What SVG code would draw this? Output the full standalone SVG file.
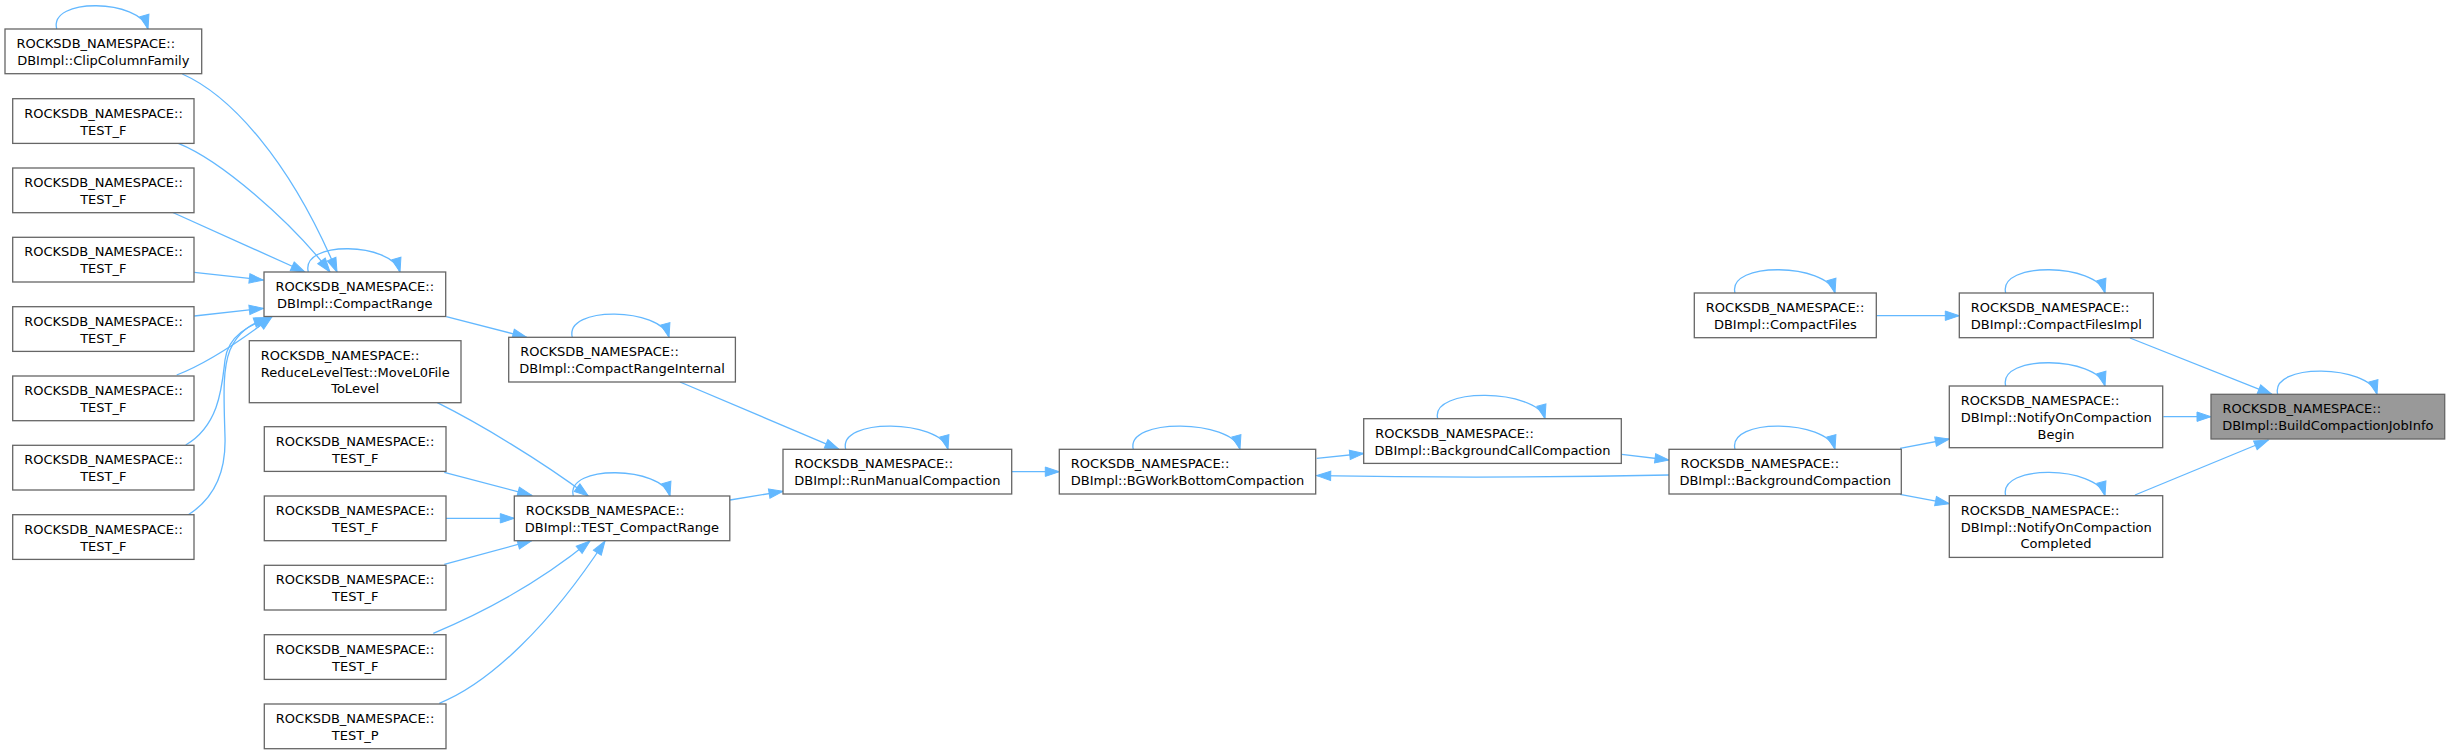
<svg xmlns="http://www.w3.org/2000/svg" width="2450" height="754" viewBox="0 0 2450 754">
<style>
.n rect{fill:#fff;stroke:#666;stroke-width:1.3}
.n.h rect{fill:#999}
.n text{font-family:"DejaVu Sans",sans-serif;font-size:13px;fill:#000}
.n text.c{text-anchor:middle}
.e path{fill:none;stroke:#63b8ff;stroke-width:1.3;marker-end:url(#a)}
</style>
<defs>
<marker id="a" markerWidth="15" markerHeight="10" refX="14" refY="4.7" orient="auto" markerUnits="userSpaceOnUse" viewBox="0 0 15 10" overflow="visible">
<path d="M0,0 L14,4.7 L0,9.4 z" fill="#63b8ff" stroke="#63b8ff" stroke-width="1"/>
</marker>
</defs>
<rect width="2450" height="754" fill="#fff"/>
<g class="e" id="edges">
<path d="M56.7,29 C48.7,-3 140,-1 148,29"/>
<path d="M308.3,272 C300.3,240 392,242 400,272"/>
<path d="M572.3,337.3 C564.3,305.3 661,307.3 669,337.3"/>
<path d="M573.3,496 C565.3,464 662,466 670,496"/>
<path d="M845.7,449.3 C837.7,417.3 940,419.3 948,449.3"/>
<path d="M1133.3,449.3 C1125.3,417.3 1232,419.3 1240,449.3"/>
<path d="M1437.7,418.7 C1429.7,386.7 1537,388.7 1545,418.7"/>
<path d="M1735,449.3 C1727,417.3 1827,419.3 1835,449.3"/>
<path d="M1735,293 C1727,261 1827,263 1835,293"/>
<path d="M2005.7,293 C1997.7,261 2097,263 2105,293"/>
<path d="M2005.7,386 C1997.7,354 2097,356 2105,386"/>
<path d="M2005.7,495.7 C1997.7,463.7 2097,465.7 2105,495.7"/>
<path d="M2277.7,394.3 C2269.7,362.3 2369,364.3 2377,394.3"/>
<path d="M182.3,74 C230,95 290,160 337,272"/>
<path d="M178.3,143.3 C220,160 290,220 330,272"/>
<path d="M171.7,212 L305,272"/>
<path d="M194.3,272.3 L263.3,280"/>
<path d="M194.3,316 L263.3,308.3"/>
<path d="M176.7,375 C205,364 235,345 272,316.8"/>
<path d="M185.7,445 C220,425 222,385 225,360 C228,335 250,325 270,317.5"/>
<path d="M188.3,514.7 C215,498 226,470 225,437 C224,400 222,370 230,350 C238,332 250,324 268,318"/>
<path d="M446.3,316.7 L526.7,337.3"/>
<path d="M680,382 L839,449.3"/>
<path d="M437.3,402.7 C480,424 540,460 588.3,496"/>
<path d="M444.3,472.3 L531.7,495.3"/>
<path d="M446,518.3 L514.3,518.3"/>
<path d="M444.3,564.3 L531.7,540.7"/>
<path d="M433.3,633.3 C470,618 530,590 590,541"/>
<path d="M439.3,703.3 C490,683 550,625 605,541"/>
<path d="M730,500 L783,491.3"/>
<path d="M1011.7,471.7 L1059.3,471.7"/>
<path d="M1316.7,458.3 L1363.7,453.5"/>
<path d="M1621.7,454.3 L1669,460"/>
<path d="M1669,475 C1550,477.5 1420,477.5 1316.7,475.6"/>
<path d="M1900,448.3 L1949.3,439"/>
<path d="M1900,494.3 L1949.3,503.7"/>
<path d="M1876.3,315.7 L1959.3,315.7"/>
<path d="M2130,338 L2272,394.3"/>
<path d="M2163.3,416.7 L2211,416.7"/>
<path d="M2135,495 L2268.3,440"/>
</g>
<g class="n" id="clipColumnFamily"><rect x="5" y="29" width="196.7" height="44.7"/><text x="16.5" y="48">ROCKSDB_NAMESPACE::</text><text class="c" x="103.3" y="64.8">DBImpl::ClipColumnFamily</text></g>
<g class="n" id="testF1"><rect x="12.7" y="98.7" width="181.3" height="44.7"/><text x="24.2" y="117.7">ROCKSDB_NAMESPACE::</text><text class="c" x="103.3" y="134.5">TEST_F</text></g>
<g class="n" id="testF2"><rect x="12.7" y="168" width="181.3" height="44.7"/><text x="24.2" y="187">ROCKSDB_NAMESPACE::</text><text class="c" x="103.3" y="203.8">TEST_F</text></g>
<g class="n" id="testF3"><rect x="12.7" y="237.3" width="181.3" height="44.7"/><text x="24.2" y="256.3">ROCKSDB_NAMESPACE::</text><text class="c" x="103.3" y="273.1">TEST_F</text></g>
<g class="n" id="testF4"><rect x="12.7" y="306.7" width="181.3" height="44.7"/><text x="24.2" y="325.7">ROCKSDB_NAMESPACE::</text><text class="c" x="103.3" y="342.5">TEST_F</text></g>
<g class="n" id="testF5"><rect x="12.7" y="376" width="181.3" height="44.7"/><text x="24.2" y="395">ROCKSDB_NAMESPACE::</text><text class="c" x="103.3" y="411.8">TEST_F</text></g>
<g class="n" id="testF6"><rect x="12.7" y="445.3" width="181.3" height="44.7"/><text x="24.2" y="464.3">ROCKSDB_NAMESPACE::</text><text class="c" x="103.3" y="481.1">TEST_F</text></g>
<g class="n" id="testF7"><rect x="12.7" y="514.7" width="181.3" height="44.7"/><text x="24.2" y="533.7">ROCKSDB_NAMESPACE::</text><text class="c" x="103.3" y="550.5">TEST_F</text></g>
<g class="n" id="compactRange"><rect x="264" y="272" width="181.7" height="44.5"/><text x="275.5" y="291">ROCKSDB_NAMESPACE::</text><text class="c" x="354.8" y="307.8">DBImpl::CompactRange</text></g>
<g class="n" id="moveL0FileToLevel"><rect x="249.3" y="340.7" width="211.7" height="62"/><text x="260.8" y="359.7">ROCKSDB_NAMESPACE::</text><text x="260.8" y="376.5">ReduceLevelTest::MoveL0File</text><text class="c" x="355.2" y="393.3">ToLevel</text></g>
<g class="n" id="testF8"><rect x="264.3" y="426.7" width="181.7" height="44.7"/><text x="275.8" y="445.7">ROCKSDB_NAMESPACE::</text><text class="c" x="355.2" y="462.5">TEST_F</text></g>
<g class="n" id="testF9"><rect x="264.3" y="496" width="181.7" height="44.7"/><text x="275.8" y="515">ROCKSDB_NAMESPACE::</text><text class="c" x="355.2" y="531.8">TEST_F</text></g>
<g class="n" id="testF10"><rect x="264.3" y="565.3" width="181.7" height="44.7"/><text x="275.8" y="584.3">ROCKSDB_NAMESPACE::</text><text class="c" x="355.2" y="601.1">TEST_F</text></g>
<g class="n" id="testF11"><rect x="264.3" y="634.7" width="181.7" height="44.7"/><text x="275.8" y="653.7">ROCKSDB_NAMESPACE::</text><text class="c" x="355.2" y="670.5">TEST_F</text></g>
<g class="n" id="testP"><rect x="264.3" y="704" width="181.7" height="44.7"/><text x="275.8" y="723">ROCKSDB_NAMESPACE::</text><text class="c" x="355.2" y="739.8">TEST_P</text></g>
<g class="n" id="compactRangeInternal"><rect x="508.7" y="337.3" width="226.7" height="44.7"/><text x="520.2" y="356.3">ROCKSDB_NAMESPACE::</text><text class="c" x="622" y="373.1">DBImpl::CompactRangeInternal</text></g>
<g class="n" id="testCompactRange"><rect x="514.3" y="496" width="215.5" height="44.7"/><text x="525.8" y="515">ROCKSDB_NAMESPACE::</text><text class="c" x="622" y="531.8">DBImpl::TEST_CompactRange</text></g>
<g class="n" id="runManualCompaction"><rect x="783" y="449.3" width="228.7" height="44.7"/><text x="794.5" y="468.3">ROCKSDB_NAMESPACE::</text><text class="c" x="897.3" y="485.1">DBImpl::RunManualCompaction</text></g>
<g class="n" id="bgWorkBottomCompaction"><rect x="1059.3" y="449.3" width="256.4" height="44.7"/><text x="1070.8" y="468.3">ROCKSDB_NAMESPACE::</text><text class="c" x="1187.5" y="485.1">DBImpl::BGWorkBottomCompaction</text></g>
<g class="n" id="backgroundCallCompaction"><rect x="1363.7" y="418.7" width="257.6" height="44.7"/><text x="1375.2" y="437.7">ROCKSDB_NAMESPACE::</text><text class="c" x="1492.5" y="454.5">DBImpl::BackgroundCallCompaction</text></g>
<g class="n" id="backgroundCompaction"><rect x="1669" y="449.3" width="232.3" height="44.7"/><text x="1680.5" y="468.3">ROCKSDB_NAMESPACE::</text><text class="c" x="1785.2" y="485.1">DBImpl::BackgroundCompaction</text></g>
<g class="n" id="compactFiles"><rect x="1694.3" y="293" width="182" height="44.7"/><text x="1705.8" y="312">ROCKSDB_NAMESPACE::</text><text class="c" x="1785.3" y="328.8">DBImpl::CompactFiles</text></g>
<g class="n" id="compactFilesImpl"><rect x="1959.3" y="293" width="194" height="44.7"/><text x="1970.8" y="312">ROCKSDB_NAMESPACE::</text><text class="c" x="2056.3" y="328.8">DBImpl::CompactFilesImpl</text></g>
<g class="n" id="notifyOnCompactionBegin"><rect x="1949.3" y="386" width="213.4" height="61.7"/><text x="1960.8" y="405">ROCKSDB_NAMESPACE::</text><text x="1960.8" y="421.8">DBImpl::NotifyOnCompaction</text><text class="c" x="2056" y="438.6">Begin</text></g>
<g class="n" id="notifyOnCompactionCompleted"><rect x="1949.3" y="495.7" width="213.4" height="61.7"/><text x="1960.8" y="514.7">ROCKSDB_NAMESPACE::</text><text x="1960.8" y="531.5">DBImpl::NotifyOnCompaction</text><text class="c" x="2056" y="548.3">Completed</text></g>
<g class="n h" id="buildCompactionJobInfo"><rect x="2211" y="394.3" width="233.7" height="44.7"/><text x="2222.5" y="413.3">ROCKSDB_NAMESPACE::</text><text class="c" x="2327.8" y="430.1">DBImpl::BuildCompactionJobInfo</text></g>
</svg>
